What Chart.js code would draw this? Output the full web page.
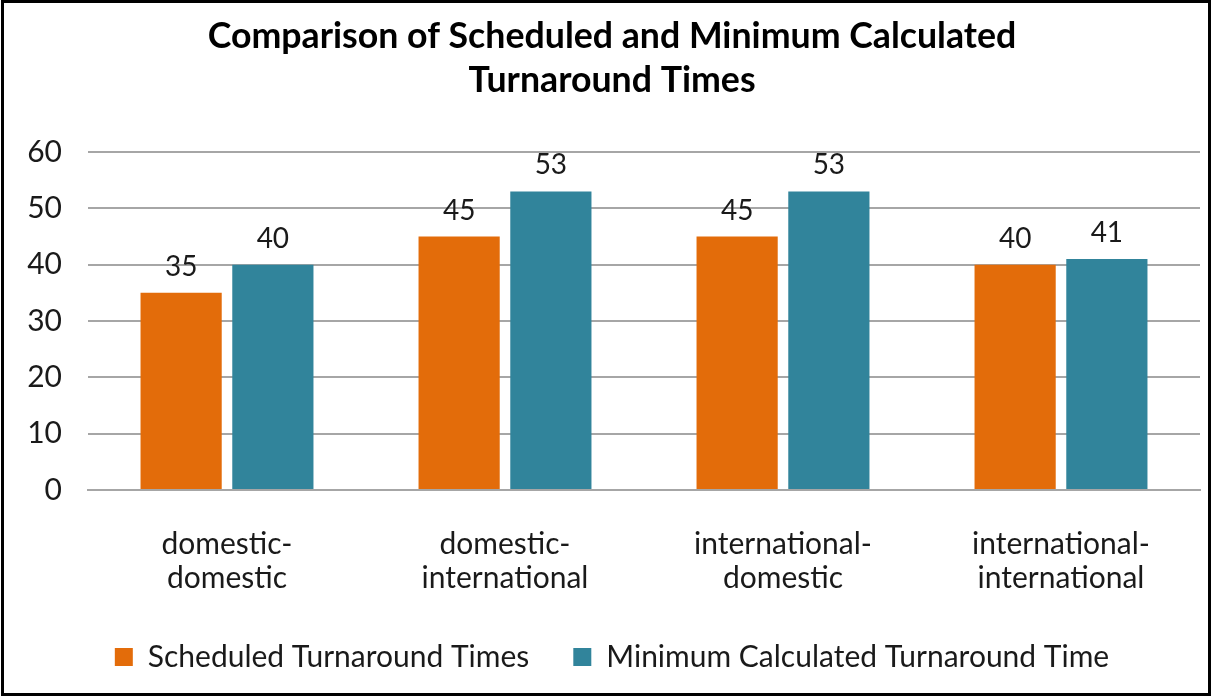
<!DOCTYPE html>
<html>
<head>
<meta charset="utf-8">
<script src="https://cdn.jsdelivr.net/npm/chart.js@4"></script>
<style>
  html, body { margin: 0; padding: 0; background: #fff; }
  #wrap { width: 1212px; height: 697px; }
</style>
</head>
<body>
<div id="wrap"><canvas id="chart" width="1212" height="697"></canvas></div>
<script>
const categories = [
    ['domestic-', 'domestic'],
    ['domestic-', 'international'],
    ['international-', 'domestic'],
    ['international-', 'international']
];
const seriesNames = ['Scheduled Turnaround Times', 'Minimum Calculated Turnaround Time'];
const scheduled = [35, 45, 45, 40];
const minimumCalculated = [40, 53, 53, 41];
const yTicks = [0, 10, 20, 30, 40, 50, 60];

const FONT = 'Lato, "Open Sans", sans-serif';

// value labels on top of each bar
const barValues = {
    id: 'barValues',
    afterDatasetsDraw(chart) {
        const ctx = chart.ctx;
        ctx.save();
        ctx.font = '28px ' + FONT;
        ctx.fillStyle = '#1a1a1a';
        ctx.textAlign = 'center';
        ctx.textBaseline = 'bottom';
        chart.data.datasets.forEach((ds, i) => {
            chart.getDatasetMeta(i).data.forEach((bar, j) => {
                ctx.fillText(ds.data[j], bar.x, bar.y - 12);
            });
        });
        ctx.restore();
    }
};

// black frame around the whole picture
const frame = {
    id: 'frame',
    afterDraw(chart) {
        const ctx = chart.ctx;
        ctx.save();
        ctx.strokeStyle = '#000';
        ctx.lineWidth = 3;
        ctx.strokeRect(2.5, 1.5, chart.width - 5, chart.height - 4);
        ctx.restore();
    }
};

new Chart(document.getElementById('chart').getContext('2d'), {
    type: 'bar',
    data: {
        labels: categories,
        datasets: [
            {
                label: seriesNames[0],
                data: scheduled,
                backgroundColor: '#E36C0A',
                categoryPercentage: 0.66,
                barPercentage: 0.885
            },
            {
                label: seriesNames[1],
                data: minimumCalculated,
                backgroundColor: '#31849B',
                categoryPercentage: 0.66,
                barPercentage: 0.885
            }
        ]
    },
    options: {
        responsive: false,
        animation: false,
        layout: { padding: { left: 24, right: 12, top: 11, bottom: 15 } },
        plugins: {
            title: {
                display: true,
                text: ['Comparison of Scheduled and Minimum Calculated', 'Turnaround Times'],
                color: '#000',
                font: { family: FONT, size: 35.7, weight: 'bold', lineHeight: 1.232 },
                padding: { top: 4, bottom: 49 }
            },
            legend: {
                position: 'bottom',
                labels: {
                    color: '#1a1a1a',
                    font: { family: FONT, size: 30 },
                    boxWidth: 18,
                    boxHeight: 18,
                    padding: 44
                }
            },
            tooltip: { enabled: false }
        },
        scales: {
            x: {
                grid: { display: false },
                border: { display: true, color: '#a6a6a6', width: 2 },
                ticks: {
                    color: '#1a1a1a',
                    font: { family: FONT, size: 30, lineHeight: 1.13 },
                    padding: 29,
                    maxRotation: 0
                },
                afterFit: scale => { scale.height = 108; }
            },
            y: {
                min: 0,
                max: 60,
                afterBuildTicks: scale => { scale.ticks = yTicks.map(v => ({ value: v })); },
                grid: { color: '#a6a6a6', lineWidth: 2, drawTicks: false },
                border: { display: false },
                ticks: {
                    color: '#1a1a1a',
                    font: { family: FONT, size: 30 },
                    padding: 26
                },
                afterFit: scale => { scale.width = 64; }
            }
        }
    },
    plugins: [barValues, frame]
});
</script>
</body>
</html>
